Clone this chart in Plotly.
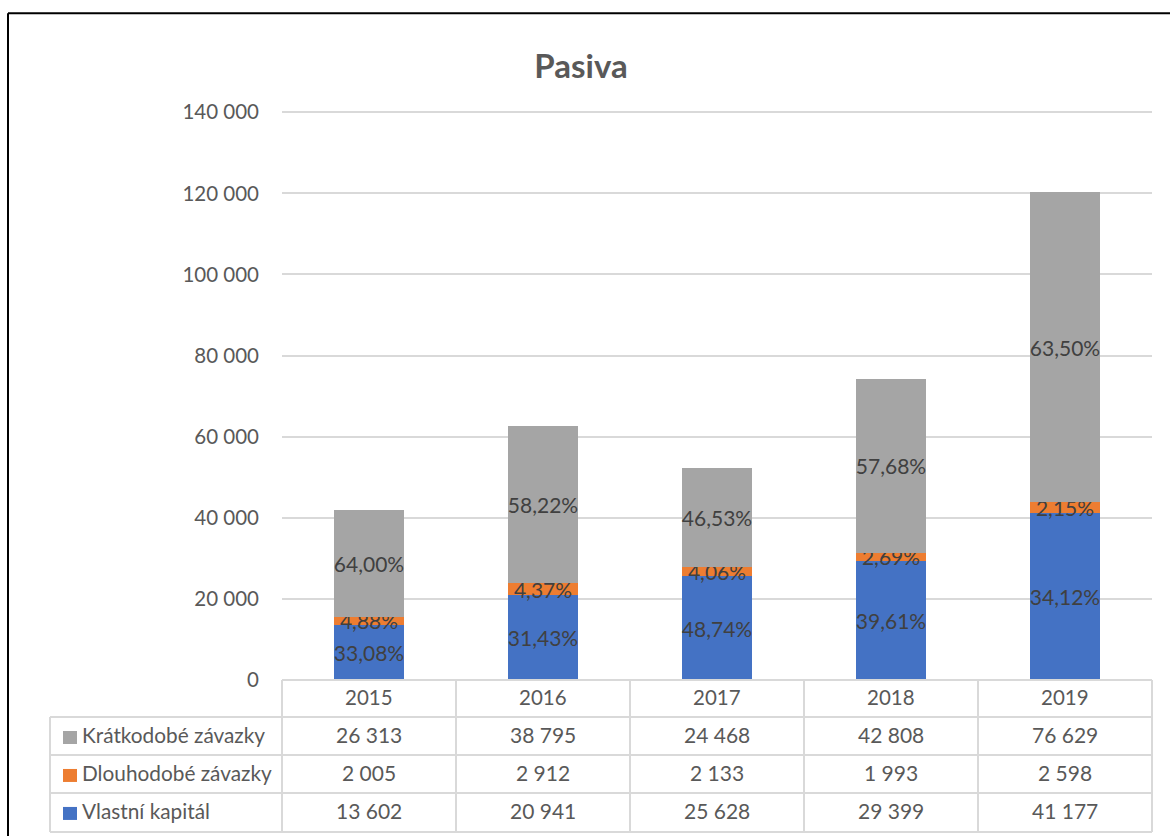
import plotly.graph_objects as go

years = ["2015", "2016", "2017", "2018", "2019"]
series_names = ["Vlastní kapitál", "Dlouhodobé závazky", "Krátkodobé závazky"]
vlastni = [13602, 20941, 25628, 29399, 41177]
dlouhodobe = [2005, 2912, 2133, 1993, 2598]
kratkodobe = [26313, 38795, 24468, 42808, 76629]
pct_vlastni = ["33,08%", "31,43%", "48,74%", "39,61%", "34,12%"]
pct_dlouhodobe = ["4,88%", "4,37%", "4,06%", "2,69%", "2,15%"]
pct_kratkodobe = ["64,00%", "58,22%", "46,53%", "57,68%", "63,50%"]
colors = ["#4472C4", "#ED7D31", "#A5A5A5"]

W, H = 1170, 836
PL, PR = 282, 1152      # plot area px
PB = 680
YMAX = 140300
PT = 680 - YMAX * (680 - 112) / 140000
FONT = "Lato"
TXT = "#595959"
GRID = "#D9D9D9"

def px_x(px):
    return (px - PL) / (PR - PL)

def px_y(py):
    return (PB - py) / (PB - PT)

fig = go.Figure()
values = [vlastni, dlouhodobe, kratkodobe]
pcts = [pct_vlastni, pct_dlouhodobe, pct_kratkodobe]
for name, vals, txt, col in zip(series_names, values, pcts, colors):
    fig.add_trace(go.Bar(
        x=years, y=vals, name=name, marker=dict(color=col, line=dict(width=0)),
        text=txt, textposition="inside", insidetextanchor="middle",
        constraintext="none", textangle=0,
        textfont=dict(family=FONT, size=21, color="#404040"),
        hoverinfo="x+y+name",
    ))

shapes = []
line_style = dict(color=GRID, width=2)
table_rows_y = [717, 755, 793, 832]
shapes.append(dict(type="line", xref="paper", yref="paper",
                   x0=px_x(PL), x1=px_x(PR), y0=px_y(680), y1=px_y(680), line=line_style))
for yy in table_rows_y:
    shapes.append(dict(type="line", xref="paper", yref="paper",
                       x0=px_x(50), x1=px_x(PR), y0=px_y(yy), y1=px_y(yy), line=line_style))
col_w = (PR - PL) / len(years)
for i in range(len(years) + 1):
    xx = PL + i * col_w
    shapes.append(dict(type="line", xref="paper", yref="paper",
                       x0=px_x(xx), x1=px_x(xx), y0=px_y(680), y1=px_y(832), line=line_style))
shapes.append(dict(type="line", xref="paper", yref="paper",
                   x0=px_x(50), x1=px_x(50), y0=px_y(717), y1=px_y(832), line=line_style))

# outer black border (top and left)
shapes.append(dict(type="line", xref="paper", yref="paper",
                   x0=px_x(8), x1=px_x(1172), y0=px_y(13), y1=px_y(13),
                   line=dict(color="#000000", width=2)))
shapes.append(dict(type="line", xref="paper", yref="paper",
                   x0=px_x(8), x1=px_x(8), y0=px_y(13), y1=px_y(840),
                   line=dict(color="#000000", width=2)))

annotations = []
for i, yr in enumerate(years):
    annotations.append(dict(x=i, xref="x", y=px_y(697), yref="paper", text=yr,
                            showarrow=False, font=dict(family=FONT, size=20.5, color=TXT),
                            xanchor="center", yanchor="middle"))
row_order = [2, 1, 0]
row_centers = [735, 773, 811]
for ri, yc in zip(row_order, row_centers):
    shapes.append(dict(type="rect", xref="paper", yref="paper",
                       x0=px_x(63), x1=px_x(77), y0=px_y(yc - 4), y1=px_y(yc + 9),
                       fillcolor=colors[ri], line=dict(width=0)))
    annotations.append(dict(x=px_x(80), xref="paper", y=px_y(yc), yref="paper",
                            text=series_names[ri], showarrow=False,
                            font=dict(family=FONT, size=20.8, color=TXT),
                            xanchor="left", yanchor="middle"))
    for i, v in enumerate(values[ri]):
        annotations.append(dict(x=i, xref="x", y=px_y(yc), yref="paper",
                                text=f"{v:,}".replace(",", " "), showarrow=False,
                                font=dict(family=FONT, size=21, color=TXT),
                                xanchor="center", yanchor="middle"))

fig.update_layout(
    width=W, height=H,
    margin=dict(l=PL, r=W - PR, t=PT, b=H - PB),
    paper_bgcolor="white", plot_bgcolor="white",
    barmode="stack", bargap=0.598, showlegend=False,
    separators=", ",
    title=dict(text="<b>Pasiva</b>", x=581 / W, xref="container", xanchor="center",
               y=1 - 66 / H, yref="container", yanchor="middle",
               font=dict(family=FONT, size=33, color=TXT)),
    xaxis=dict(type="category", range=[-0.5, len(years) - 0.5], showticklabels=False,
               showgrid=False, zeroline=False, showline=False, ticks=""),
    yaxis=dict(range=[0, YMAX], dtick=20000, tickformat=",d", showgrid=True,
               gridcolor=GRID, gridwidth=1.5, zeroline=False, showline=False, ticks="",
               ticklabelstandoff=22,
               tickfont=dict(family=FONT, size=20.5, color=TXT)),
    shapes=shapes, annotations=annotations,
)

fig.write_html("out.html")
